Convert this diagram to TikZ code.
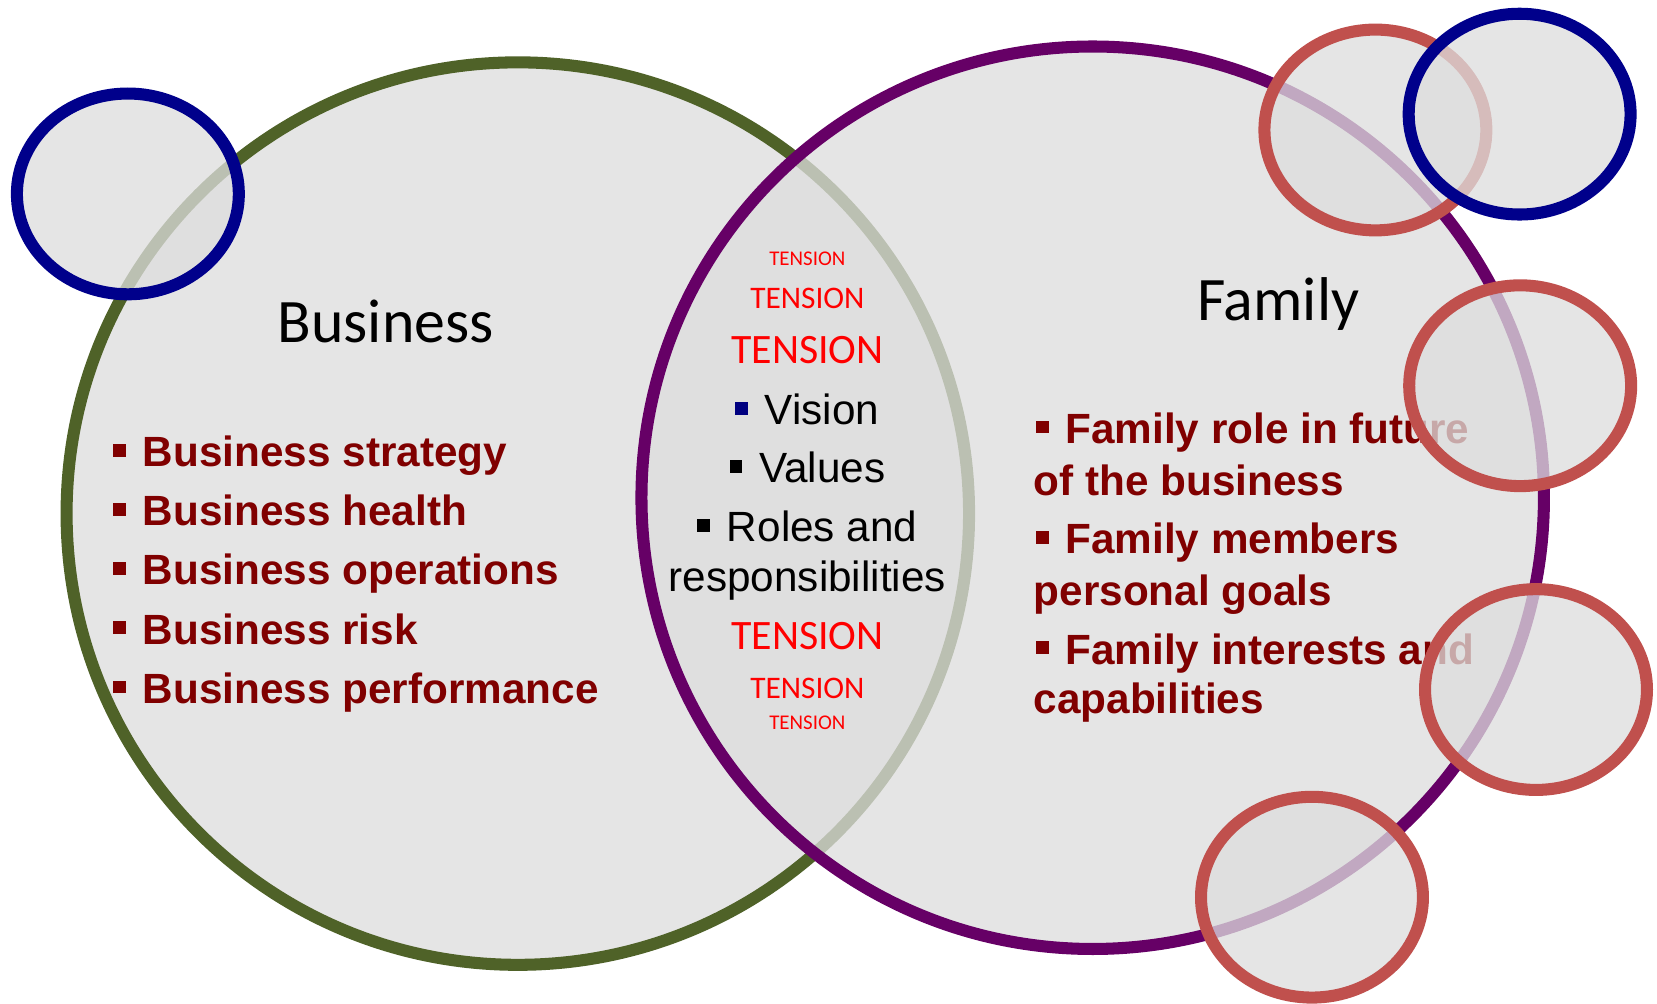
\documentclass[tikz,border=0pt]{standalone}
\usepackage{fontspec}
\usetikzlibrary{shapes.geometric}
\setmainfont{Liberation Sans}
\newfontfamily\calib{Carlito}
\definecolor{blobfill}{RGB}{222,222,222}
\definecolor{ringgreen}{HTML}{4F6228}
\definecolor{ringpurple}{HTML}{660066}
\definecolor{ringblue}{RGB}{0,0,139}
\definecolor{ringred}{HTML}{C0504D}
\definecolor{itemred}{HTML}{800000}
\definecolor{tensionred}{HTML}{FF0000}
\definecolor{visionblue}{RGB}{0,0,128}
\newcommand{\sqb}[1][itemred]{\textcolor{#1}{\rule[9.5pt]{12pt}{12pt}}\hspace{16pt}}
\begin{document}
\begin{tikzpicture}[x=1pt,y=-1pt,
  blob/.style={fill=blobfill, fill opacity=0.76, draw opacity=1, line width=11.4pt, inner sep=0pt, outer sep=0pt},
  bigring/.style={blob, circle, minimum size=854pt},
  smallring/.style={blob, ellipse, minimum width=210pt, minimum height=190pt},
  bluering/.style={smallring, draw=ringblue},
  redring/.style={smallring, draw=ringred},
  title/.style={inner sep=0pt, anchor=base, font=\calib\fontsize{58.5}{60}\selectfont},
  tension/.style={inner sep=0pt, anchor=base, text=tensionred, font=\calib\fontsize{#1}{#1}\selectfont},
  item/.style={inner sep=0pt, anchor=base west, text=itemred, font=\bfseries\fontsize{40}{44}\selectfont},
  mid/.style={inner sep=0pt, anchor=base, font=\fontsize{40}{44}\selectfont},
]
\fill[white] (0,0) rectangle (1568,950);
\useasboundingbox (0,0) rectangle (1568,950);

% main circles
\node[bigring, draw=ringgreen] (business) at (490,486) {};
\node[bigring, draw=ringpurple] (family) at (1034,471) {};

% titles
\node[title] (btitle) at (365,324) {Business};
\node[title] (ftitle) at (1209.5,303) {Family};

% business items
\node[item] (b1) at (107,441.5) {\sqb Business strategy};
\node[item] (b2) at (107,497.5) {\sqb Business health};
\node[item] (b3) at (107,553.5) {\sqb Business operations};
\node[item] (b4) at (107,609.5) {\sqb Business risk};
\node[item] (b5) at (107,665.5) {\sqb Business performance};

% family items
\node[item] (f1) at (980,419.5) {\sqb Family role in future};
\node[item] (f1b) at (978,468.5) {of the business};
\node[item] (f2) at (980,524) {\sqb Family members};
\node[item] (f2b) at (978,572.5) {personal goals};
\node[item] (f3) at (980,628.5) {\sqb Family interests and};
\node[item] (f3b) at (978,675) {capabilities};

% centre lens
\node[tension=19.8] (t1) at (764,251.4) {TENSION};
\node[tension=29.7] (t2) at (764,291.8) {TENSION};
\node[tension=39.6] (t3) at (764,344.4) {TENSION};
\node[mid] (m1) at (764,402) {\sqb[visionblue]Vision};
\node[mid] (m2) at (764,456.7) {\sqb[black]Values};
\node[mid] (m3) at (764,512.6) {\sqb[black]Roles and};
\node[mid] (m4) at (764,560) {responsibilities};
\node[tension=39.6] (t4) at (764,615) {TENSION};
\node[tension=29.7] (t5) at (764,661) {TENSION};
\node[tension=19.8] (t6) at (764,690) {TENSION};

% small rings
\node[redring] (r1) at (1301.5,123) {};
\node[redring] (r2) at (1438.5,365) {};
\node[redring] (r3) at (1453.5,652.5) {};
\node[redring] (r4) at (1241.5,849) {};
\node[bluering] (u1) at (121,183.5) {};
\node[bluering] (u2) at (1438,108) {};
\end{tikzpicture}
\end{document}
